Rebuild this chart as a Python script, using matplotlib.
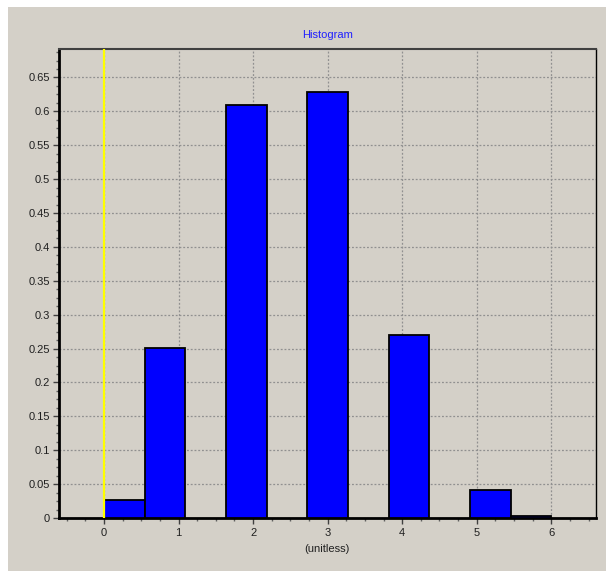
import matplotlib
matplotlib.use("Agg")
import matplotlib.pyplot as plt
import numpy as np
from matplotlib.ticker import MultipleLocator, FuncFormatter

plt.rcParams['font.family'] = ['Liberation Sans', 'DejaVu Sans']

# Data
bin_edges = np.linspace(0, 6, 12)  # 11 bins from 0 to 6
bin_heights = [0.0266, 0.251, 0.0, 0.609, 0.0, 0.629, 0.0, 0.270, 0.0, 0.041, 0.003]
x_ticks = [0, 1, 2, 3, 4, 5, 6]
y_ticks = [0, 0.05, 0.1, 0.15, 0.2, 0.25, 0.3, 0.35, 0.4, 0.45, 0.5, 0.55, 0.6, 0.65]
title = "Histogram"
xlabel = "(unitless)"
marker_x = 0

W, H = 606, 571
fig = plt.figure(figsize=(W / 100, H / 100), dpi=100, facecolor='white')
bg = '#d4d0c8'
fig.patches.append(plt.Rectangle((8 / W, 0), 1 - 8 / W, 1 - 7 / H, transform=fig.transFigure,
                                 facecolor=bg, edgecolor='none', zorder=-10))

left, right, top, bottom = 58.5, 596, 49, 518
ax = fig.add_axes([left / W, 1 - bottom / H, (right - left) / W, (bottom - top) / H])
ax.set_facecolor(bg)

widths = np.diff(bin_edges)
heights = np.array(bin_heights)
mask = heights > 0
ax.bar(bin_edges[:-1][mask], heights[mask], width=widths[mask], align='edge',
       color='#0000ff', edgecolor='black', linewidth=1.3, zorder=3)

ax.axvline(marker_x, color='#ffff00', linewidth=1.6, zorder=4)

ax.set_xlim(-0.61, 6.60)
ax.set_ylim(0, 0.692)
ax.set_xticks(x_ticks)
ax.set_yticks(y_ticks)
ax.xaxis.set_minor_locator(MultipleLocator(0.25))
ax.yaxis.set_minor_locator(MultipleLocator(0.0125))
ax.yaxis.set_major_formatter(FuncFormatter(lambda v, p: f"{v:g}"))

ax.tick_params(axis='both', which='major', labelsize=8, length=4.5, width=1, color='#404040',
               labelcolor='#202020', direction='out')
ax.tick_params(axis='y', which='major', pad=1.5)
ax.tick_params(axis='x', which='major', pad=3)
ax.tick_params(axis='both', which='minor', length=2.5, width=1, color='#606060', direction='out')

ax.grid(True, which='major', color='#909090', linestyle=(0, (1.5, 1.5)), linewidth=0.9, zorder=1)

ax.spines['left'].set_linewidth(2)
ax.spines['left'].set_color('black')
ax.spines['bottom'].set_linewidth(2)
ax.spines['bottom'].set_color('black')
ax.spines['top'].set_linewidth(1.5)
ax.spines['top'].set_color('#404040')
ax.spines['right'].set_linewidth(1)
ax.spines['right'].set_color('black')

ax.set_title(title, fontsize=8, color='#2020ff', pad=8)
ax.set_xlabel(xlabel, fontsize=8, color='#202020', labelpad=4)

fig.savefig('out.png', dpi=100, facecolor=fig.get_facecolor())
